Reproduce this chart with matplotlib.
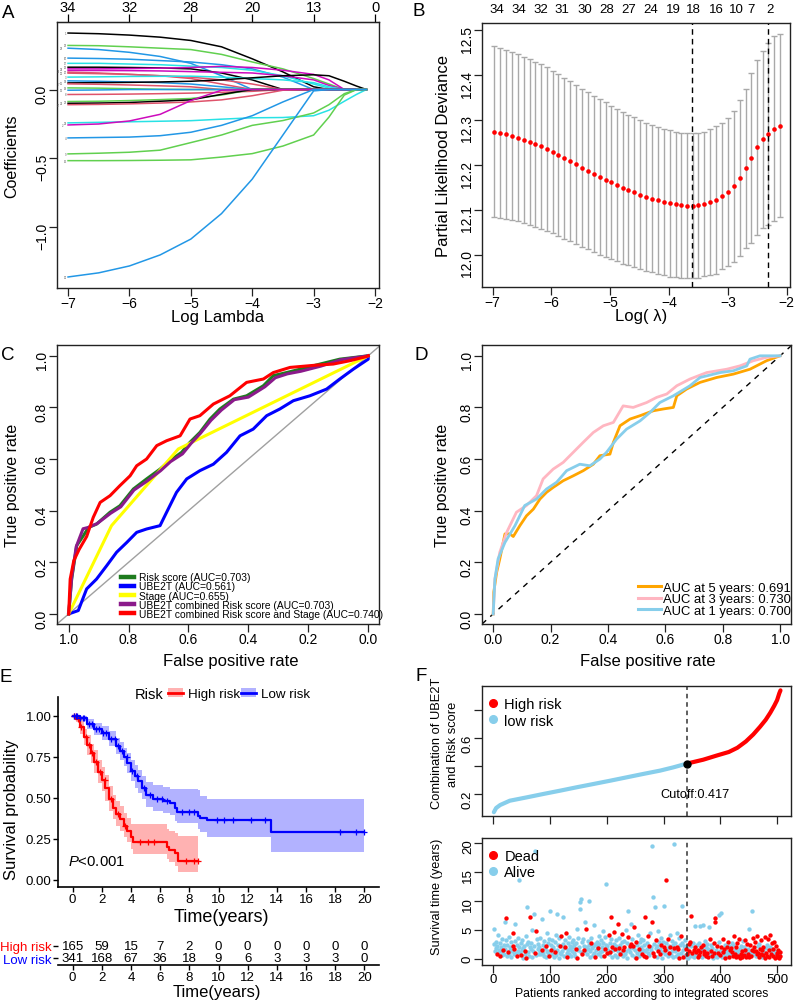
import numpy as np
import matplotlib
matplotlib.use("Agg")
import matplotlib.pyplot as plt
from matplotlib.lines import Line2D
from matplotlib.patches import Patch

plt.rcParams['font.family'] = ['Liberation Sans', 'DejaVu Sans']
plt.rcParams['mathtext.fontset'] = 'custom'
plt.rcParams['mathtext.it'] = 'Liberation Sans:italic'
plt.rcParams['mathtext.rm'] = 'Liberation Sans'

# ---------------- A: lasso coefficient paths ----------------
coef_lam = [-7, -6.5, -6, -5.5, -5, -4.5, -4, -3.5, -3, -2.75, -2.5, -2.3, -2.14]
coef_paths = [
    [0.41, 0.405, 0.395, 0.38, 0.356, 0.31, 0.223, 0.128, 0.02, 0, 0, 0, 0],
    [0.32, 0.318, 0.31, 0.30, 0.29, 0.255, 0.20, 0.15, 0.08, 0.04, 0, 0, 0],
    [0.30, 0.29, 0.27, 0.24, 0.19, 0.10, 0, 0, 0, 0, 0, 0, 0],
    [0.228, 0.225, 0.22, 0.21, 0.20, 0.18, 0.15, 0.09, 0, 0, 0, 0, 0],
    [0.19, 0.19, 0.185, 0.18, 0.17, 0.16, 0.14, 0.10, 0.04, 0.01, 0, 0, 0],
    [0.162, 0.162, 0.16, 0.157, 0.15, 0.12, 0.07, 0, 0, 0, 0, 0, 0],
    [0.15, 0.15, 0.152, 0.155, 0.16, 0.168, 0.16, 0.14, 0.11, 0.07, 0, 0, 0],
    [0.138, 0.138, 0.137, 0.135, 0.13, 0.125, 0.12, 0.10, 0.07, 0.03, 0, 0, 0],
    [0.126, 0.12, 0.11, 0.10, 0.09, 0.07, 0.04, 0, 0, 0, 0, 0, 0],
    [0.119, 0.115, 0.11, 0.10, 0.08, 0.04, 0, 0, 0, 0, 0, 0, 0],
    [0.09, 0.092, 0.095, 0.096, 0.097, 0.09, 0.08, 0.07, 0.05, 0.02, 0, 0, 0],
    [0.063, 0.06, 0.055, 0.05, 0.04, 0.02, 0, 0, 0, 0, 0, 0, 0],
    [0.048, 0.05, 0.052, 0.055, 0.06, 0.07, 0.085, 0.10, 0.107, 0.10, 0.06, 0.025, 0],
    [0.041, 0.038, 0.033, 0.027, 0.02, 0, 0, 0, 0, 0, 0, 0, 0],
    [0.012, 0.01, 0.006, 0.002, 0, 0, 0, 0, 0, 0, 0, 0, 0],
    [-0.005, -0.003, 0, 0, 0, 0, 0, 0, 0, 0, 0, 0, 0],
    [-0.036, -0.035, -0.033, -0.03, -0.026, -0.02, -0.013, 0, 0, 0, 0, 0, 0],
    [-0.087, -0.085, -0.08, -0.073, -0.065, -0.04, 0, 0, 0, 0, 0, 0, 0],
    [-0.10, -0.098, -0.094, -0.085, -0.075, -0.035, 0, 0, 0, 0, 0, 0, 0],
    [-0.11, -0.108, -0.104, -0.098, -0.09, -0.075, -0.045, -0.005, 0, 0, 0, 0, 0],
    [-0.242, -0.238, -0.234, -0.23, -0.226, -0.215, -0.205, -0.203, -0.19, -0.15, -0.085, -0.035, 0],
    [-0.257, -0.25, -0.228, -0.18, -0.08, -0.005, 0, 0, 0, 0, 0, 0, 0],
    [-0.351, -0.348, -0.345, -0.335, -0.31, -0.26, -0.19, -0.09, 0, 0, 0, 0, 0],
    [-0.467, -0.462, -0.455, -0.44, -0.385, -0.33, -0.26, -0.225, -0.17, -0.11, -0.03, 0, 0],
    [-0.516, -0.516, -0.515, -0.513, -0.51, -0.49, -0.465, -0.41, -0.33, -0.20, -0.04, 0, 0],
    [-1.36, -1.33, -1.28, -1.20, -1.085, -0.90, -0.65, -0.33, -0.01, 0, 0, 0, 0],
]
coef_colors = ['#000000', '#61D04F', '#2297E6', '#2297E6', '#28E2E5', '#000000',
               '#CD0BBC', '#CD0BBC', '#DF536B', '#DF536B', '#28E2E5', '#2297E6',
               '#000000', '#DF536B', '#61D04F', '#2297E6', '#DF536B', '#61D04F',
               '#000000', '#DF536B', '#28E2E5', '#CD0BBC', '#2297E6', '#61D04F',
               '#61D04F', '#2297E6']
coef_labels = ['1', '28', '23', '26', '17', '13', '33', '31', '20', '25', '3', '14', '11',
               '7', '19', '12', '8', '22', '21', '27', '32', '2', '4', '9', '15', '30']
lam_ticks = [-7, -6, -5, -4, -3, -2]
df_top = ['34', '32', '28', '20', '13', '0']

# ---------------- B: cross-validation curve ----------------
cv_loglam = [-6.97, -6.87, -6.77, -6.67, -6.57, -6.47, -6.37, -6.28, -6.18, -6.08,
             -5.98, -5.88, -5.78, -5.68, -5.58, -5.48, -5.38, -5.28, -5.18, -5.08,
             -4.99, -4.89, -4.79, -4.69, -4.59, -4.49, -4.39, -4.29, -4.19, -4.09,
             -3.99, -3.89, -3.80, -3.70, -3.60, -3.50, -3.40, -3.30, -3.20, -3.10,
             -3.00, -2.90, -2.80, -2.70, -2.60, -2.51, -2.41, -2.31, -2.21, -2.11]
cv_mean = [12.274, 12.271, 12.268, 12.264, 12.260, 12.256, 12.251, 12.246, 12.241, 12.235,
           12.229, 12.222, 12.215, 12.208, 12.201, 12.194, 12.187, 12.180, 12.173, 12.167,
           12.161, 12.155, 12.149, 12.144, 12.139, 12.134, 12.129, 12.125, 12.121, 12.117,
           12.114, 12.112, 12.110, 12.109, 12.109, 12.110, 12.113, 12.117, 12.122, 12.130,
           12.140, 12.152, 12.170, 12.192, 12.216, 12.239, 12.257, 12.268, 12.281, 12.287]
cv_se = [0.190, 0.189, 0.188, 0.187, 0.186, 0.185, 0.184, 0.184, 0.183, 0.182,
         0.181, 0.180, 0.179, 0.178, 0.177, 0.176, 0.175, 0.174, 0.173, 0.172,
         0.171, 0.170, 0.169, 0.168, 0.167, 0.166, 0.165, 0.164, 0.164, 0.163,
         0.163, 0.162, 0.162, 0.162, 0.162, 0.161, 0.161, 0.163, 0.165, 0.163,
         0.165, 0.169, 0.174, 0.178, 0.189, 0.195, 0.197, 0.203, 0.205, 0.204]
lambda_min, lambda_1se = -3.61, -2.31
cv_top_pos = [-6.93, -6.56, -6.18, -5.82, -5.44, -5.06, -4.69, -4.32, -3.93, -3.59,
              -3.19, -2.85, -2.6, -2.29]
cv_top_nz = ['34', '34', '32', '31', '30', '28', '27', '24', '19', '18', '16', '10', '7', '2']

# ---------------- C: ROC of models (specificity axis) ----------------
roc_red_spec = [1.0, 0.995, 0.983, 0.965, 0.94, 0.918, 0.895, 0.862, 0.829, 0.795, 0.773, 0.74,
                0.706, 0.673, 0.628, 0.595, 0.562, 0.517, 0.462, 0.406, 0.35, 0.317, 0.261,
                0.172, 0.117, 0.061, 0.006, 0.0]
roc_red_sens = [0.0, 0.135, 0.206, 0.25, 0.3, 0.374, 0.432, 0.458, 0.497, 0.535, 0.574, 0.6,
                0.652, 0.671, 0.69, 0.755, 0.768, 0.813, 0.845, 0.897, 0.91, 0.935, 0.955,
                0.964, 0.968, 0.981, 0.997, 1.0]
roc_green_spec = [1.0, 0.99, 0.973, 0.951, 0.934, 0.907, 0.862, 0.829, 0.784, 0.74, 0.695, 0.662,
                  0.623, 0.595, 0.562, 0.528, 0.495, 0.45, 0.406, 0.35, 0.317, 0.273, 0.228,
                  0.161, 0.095, 0.0]
roc_green_sens = [0.0, 0.135, 0.265, 0.303, 0.335, 0.348, 0.394, 0.419, 0.484, 0.523, 0.561, 0.594,
                  0.626, 0.665, 0.703, 0.755, 0.794, 0.832, 0.845, 0.884, 0.923, 0.935, 0.948,
                  0.968, 0.987, 1.0]
roc_purple_spec = [1.0, 0.99, 0.975, 0.952, 0.935, 0.905, 0.86, 0.826, 0.782, 0.738, 0.693, 0.66,
                   0.62, 0.592, 0.56, 0.525, 0.49, 0.447, 0.40, 0.345, 0.31, 0.27, 0.225,
                   0.158, 0.09, 0.0]
roc_purple_sens = [0.0, 0.14, 0.26, 0.33, 0.335, 0.35, 0.39, 0.415, 0.48, 0.515, 0.555, 0.59,
                   0.62, 0.66, 0.7, 0.75, 0.79, 0.83, 0.84, 0.88, 0.915, 0.93, 0.94,
                   0.96, 0.985, 1.0]
roc_yellow_spec = [1.0, 0.857, 0.634, 0.0]
roc_yellow_sens = [0.0, 0.342, 0.639, 1.0]
roc_blue_spec = [1.0, 0.968, 0.94, 0.907, 0.873, 0.84, 0.806, 0.773, 0.74, 0.695, 0.673, 0.64,
                 0.606, 0.562, 0.517, 0.473, 0.428, 0.384, 0.339, 0.295, 0.25, 0.195, 0.139,
                 0.095, 0.05, 0.0, 0.0]
roc_blue_sens = [0.0, 0.013, 0.097, 0.135, 0.187, 0.239, 0.277, 0.316, 0.329, 0.342, 0.394, 0.471,
                 0.523, 0.555, 0.58, 0.626, 0.69, 0.716, 0.768, 0.794, 0.826, 0.845, 0.871,
                 0.91, 0.948, 0.987, 1.0]
roc_labels = ['Risk score (AUC=0.703)', 'UBE2T (AUC=0.561)', 'Stage (AUC=0.655)',
              'UBE2T combined Risk score (AUC=0.703)',
              'UBE2T combined Risk score and Stage (AUC=0.740)']
roc_colors = ['#1E7B1E', '#0000FF', '#FFFF00', '#8B1A8B', '#FF0000']

# ---------------- D: time-dependent ROC ----------------
t5_fpr = [0, 0.002, 0.012, 0.023, 0.041, 0.058, 0.07, 0.093, 0.116, 0.14, 0.163, 0.186, 0.209,
          0.244, 0.279, 0.314, 0.349, 0.372, 0.407, 0.419, 0.442, 0.477, 0.512, 0.558, 0.593,
          0.628, 0.64, 0.674, 0.721, 0.779, 0.837, 0.895, 0.953, 1.0]
t5_tpr = [0, 0.084, 0.161, 0.213, 0.31, 0.31, 0.30, 0.342, 0.38, 0.406, 0.445, 0.471, 0.49,
          0.516, 0.535, 0.555, 0.58, 0.613, 0.619, 0.665, 0.729, 0.755, 0.768, 0.787, 0.794,
          0.8, 0.845, 0.871, 0.897, 0.916, 0.929, 0.948, 0.981, 1.0]
t3_fpr = [0, 0.006, 0.023, 0.047, 0.081, 0.116, 0.151, 0.174, 0.209, 0.244, 0.279, 0.314,
          0.349, 0.384, 0.419, 0.453, 0.488, 0.535, 0.57, 0.605, 0.64, 0.686, 0.744, 0.814,
          0.86, 0.907, 0.953, 1.0]
t3_tpr = [0, 0.135, 0.239, 0.316, 0.394, 0.42, 0.458, 0.523, 0.561, 0.587, 0.626, 0.665,
          0.703, 0.729, 0.742, 0.806, 0.8, 0.819, 0.839, 0.852, 0.884, 0.91, 0.935, 0.948,
          0.961, 0.981, 0.994, 1.0]
t1_fpr = [0, 0.006, 0.017, 0.041, 0.076, 0.11, 0.151, 0.186, 0.221, 0.256, 0.302, 0.337,
          0.372, 0.395, 0.43, 0.465, 0.512, 0.547, 0.581, 0.628, 0.686, 0.721, 0.791, 0.837,
          0.884, 0.895, 0.93, 1.0]
t1_tpr = [0, 0.135, 0.213, 0.277, 0.342, 0.42, 0.445, 0.484, 0.51, 0.555, 0.58, 0.574,
          0.6, 0.626, 0.677, 0.716, 0.748, 0.781, 0.819, 0.845, 0.884, 0.916, 0.935, 0.942,
          0.961, 0.987, 1.0, 1.0]
td_labels = ['AUC at 5 years: 0.691', 'AUC at 3 years: 0.730', 'AUC at 1 years: 0.700']
td_colors = ['#FFA500', '#FFB6C1', '#87CEEB']

# ---------------- E: Kaplan-Meier ----------------
high_t = [0, 0.25, 0.5, 0.75, 1.0, 1.25, 1.5, 1.75, 2.0, 2.25, 2.5, 2.75, 3.0, 3.25, 3.5,
          3.75, 4.0, 4.15, 6.45, 6.6, 7.0, 7.25, 8.6]
high_s = [1.0, 0.98, 0.93, 0.87, 0.82, 0.77, 0.72, 0.66, 0.61, 0.56, 0.49, 0.44, 0.40, 0.37,
          0.33, 0.30, 0.26, 0.233, 0.20, 0.183, 0.165, 0.118, 0.118]
high_hi = [1.0, 1.0, 0.97, 0.92, 0.88, 0.83, 0.79, 0.73, 0.69, 0.64, 0.57, 0.52, 0.48, 0.45,
           0.41, 0.38, 0.34, 0.34, 0.31, 0.30, 0.285, 0.265, 0.265]
high_lo = [1.0, 0.96, 0.89, 0.82, 0.76, 0.71, 0.65, 0.59, 0.54, 0.48, 0.42, 0.37, 0.33, 0.30,
           0.26, 0.23, 0.19, 0.158, 0.125, 0.107, 0.087, 0.05, 0.05]
high_cens = [0.1, 0.2, 0.4, 0.6, 0.9, 1.1, 1.3, 1.6, 1.9, 2.2, 2.6, 3.1, 3.6, 4.6, 5.2, 5.6,
             7.8, 8.3, 8.6]
low_t = [0, 0.5, 1.0, 1.5, 2.0, 2.5, 3.0, 3.25, 3.5, 3.75, 4.0, 4.25, 4.5, 4.75, 5.0, 5.5,
         6.2, 6.7, 7.0, 7.15, 8.6, 8.75, 9.2, 13.6, 20.0]
low_s = [1.0, 0.985, 0.95, 0.92, 0.895, 0.86, 0.815, 0.785, 0.75, 0.71, 0.665, 0.63, 0.6,
         0.56, 0.52, 0.495, 0.482, 0.468, 0.435, 0.416, 0.39, 0.375, 0.362, 0.29, 0.29]
low_hi = [1.0, 1.0, 0.98, 0.955, 0.935, 0.905, 0.865, 0.84, 0.805, 0.77, 0.73, 0.70, 0.67,
          0.63, 0.595, 0.575, 0.565, 0.555, 0.555, 0.555, 0.55, 0.51, 0.495, 0.493, 0.493]
low_lo = [1.0, 0.97, 0.92, 0.885, 0.855, 0.815, 0.765, 0.73, 0.695, 0.65, 0.60, 0.56, 0.53,
          0.49, 0.445, 0.42, 0.41, 0.395, 0.36, 0.345, 0.31, 0.29, 0.26, 0.168, 0.168]
low_cens = [0.1, 0.2, 0.3, 0.5, 0.7, 0.8, 1.1, 1.3, 1.6, 1.8, 2.1, 2.3, 2.6, 2.9, 3.1, 3.4,
            3.7, 4.1, 4.4, 4.9, 5.3, 5.8, 6.1, 6.5, 7.5, 8.0, 8.3, 9.9, 10.4, 11.0, 12.2,
            13.2, 18.3, 19.4, 20.0]
table_times = [0, 2, 4, 6, 8, 10, 12, 14, 16, 18, 20]
high_at_risk = [165, 59, 15, 7, 2, 0, 0, 0, 0, 0, 0]
low_at_risk = [341, 168, 67, 36, 18, 9, 6, 3, 3, 3, 0]

# ---------------- F: risk score distribution ----------------
low_rank = [1, 5, 12, 29, 59, 88, 118, 147, 176, 206, 235, 264, 294, 317, 341]
low_score = [0.07, 0.10, 0.121, 0.152, 0.176, 0.20, 0.224, 0.248, 0.271, 0.295, 0.319,
             0.343, 0.367, 0.39, 0.417]
high_rank = [341, 370, 394, 415, 430, 445, 458, 470, 480, 488, 495, 500, 504, 506]
high_score = [0.417, 0.445, 0.475, 0.50, 0.53, 0.575, 0.625, 0.68, 0.73, 0.78, 0.83, 0.87,
              0.92, 0.94]
cutoff_rank, cutoff_value = 341, 0.417

surv_time = [
    5.2, 2.6, 1.4, 3.0, 1.9, 0.8, 2.2, 1.1, 4.2, 1.6, 0.5, 2.8, 1.3, 2.0, 0.7, 3.4, 1.5, 2.4, 0.9, 6.4,
    1.8, 3.2, 7.1, 0.6, 2.5, 1.2, 3.8, 0.9, 2.1, 1.6, 0.3, 2.9, 1.4, 4.5, 2.2, 0.8, 1.7, 3.1, 6.1, 1.0,
    2.4, 0.5, 1.3, 3.6, 13.6, 2.0, 1.1, 0.7, 2.7, 1.5, 3.3, 0.2, 1.9, 2.3, 0.9, 1.4, 4.0, 0.1, 8.9, 2.6,
    1.2, 3.0, 0.6, 2.1, 7.2, 1.7, 2.8, 0.4, 5.0, 1.4, 7.8, 2.3, 18.6, 1.0, 0.7, 4.8, 3.4, 1.8, 2.6, 0.9,
    2.0, 1.3, 3.7, 0.8, 1.6, 6.9, 2.5, 1.1, 0.5, 3.1, 1.9, 2.2, 0.3, 4.4, 1.4, 2.7, 1.0, 3.5, 0.6, 8.3,
    2.4, 1.5, 0.9, 3.2, 1.8, 2.1, 0.4, 1.2, 2.9, 0.7, 4.1, 7.8, 1.6, 2.5, 0.2, 3.6, 1.0, 2.2, 0.8, 3.9,
    1.3, 2.6, 7.2, 0.6, 1.9, 3.3, 2.0, 4.5, 1.1, 0.3, 2.8, 1.5, 3.8, 0.9, 2.3, 1.7, 0.5, 3.0, 1.4, 2.1,
    3.2, 1.0, 2.4, 0.6, 1.8, 2.7, 5.2, 0.2, 1.5, 3.6, 2.1, 9.8, 8.7, 10.3, 1.2, 2.9, 0.8, 3.4, 1.6, 2.2,
    6.3, 1.4, 5.2, 2.0, 0.9, 3.1, 1.7, 2.5, 10.0, 0.4, 1.3, 2.8, 3.7, 1.9, 0.7, 2.3, 5.8, 1.1, 0.3, 2.6,
    1.5, 3.0, 2.2, 0.8, 1.9, 2.6, 4.0, 1.2, 0.5, 3.3, 2.0, 1.4, 4.9, 2.8, 0.6, 1.7, 3.8, 2.4, 13.0, 1.0,
    2.3, 1.6, 4.1, 0.9, 2.8, 1.2, 7.2, 3.4, 0.4, 2.0, 1.5, 4.6, 2.6, 0.7, 1.8, 3.2, 2.2, 0.3, 1.3, 6.0,
    1.9, 3.6, 0.8, 2.4, 1.1, 4.3, 2.9, 0.5, 1.6, 3.1, 2.1, 0.9, 5.0, 1.4, 2.7, 0.2, 3.8, 8.3, 1.7, 2.3,
    1.2, 6.0, 2.6, 0.7, 3.4, 1.9, 2.2, 5.6, 0.4, 1.5, 3.0, 0.1, 2.4, 1.0, 4.2, 1.8, 0.6, 2.9, 1.3, 3.5,
    2.1, 0.9, 1.6, 3.2, 0.5, 2.5, 1.3, 7.2, 0.3, 2.8, 1.8, 3.9, 1.0, 2.3, 0.7, 4.4, 1.5, 2.0, 6.3, 19.4,
    1.1, 10.7, 2.6, 0.6, 8.9, 1.9, 3.3, 0.4, 2.2, 4.9, 1.4, 2.9, 0.8, 1.7, 3.6, 2.4, 0.2, 1.2, 3.0, 2.0,
    9.2, 1.5, 0.9, 2.7, 13.6, 1.8, 3.4, 0.5, 2.3, 1.1, 4.2, 2.0, 0.7, 1.4, 3.1, 2.5, 0.3, 1.9, 19.8, 2.8,
    1.3, 0.6, 4.5, 2.1, 0.9, 1.7, 3.6, 0.2, 2.4, 1.0, 4.0, 2.8, 9.2, 1.5, 0.4, 2.2, 0.7, 3.2, 1.8, 0.3,
    0.8, 1.9, 0.2, 2.6, 1.4, 0.5, 3.0, 2.2, 7.4, 1.1, 0.6, 2.7, 1.6, 0.3, 2.0, 5.7, 1.2, 0.9, 2.4, 0.4,
    1.5, 2.8, 0.7, 1.2, 5.7, 2.1, 0.3, 1.8, 2.5, 5.8, 0.9, 1.4, 3.1, 0.5, 2.0, 1.1, 2.6, 0.4, 1.7, 5.6,
    3.5, 0.8, 1.3, 2.4, 0.5, 1.9, 0.2, 2.7, 1.1, 6.4, 7.0, 0.6, 1.6, 2.2, 0.3, 1.0, 2.9, 7.5, 0.7, 1.4,
    8.0, 2.0, 0.4, 1.2, 3.4, 0.9, 1.7, 2.5, 0.2, 1.4, 2.1, 0.6, 3.0, 1.0, 0.3, 2.3, 1.6, 0.8, 1.9, 2.7,
    1.2, 0.5, 2.4, 3.9, 0.8, 1.6, 0.3, 2.0, 1.1, 2.8, 0.6, 1.4, 3.5, 0.2, 1.8, 0.9, 2.3, 1.3, 0.4, 3.1,
    0.7, 2.1, 1.5, 3.3, 0.4, 1.0, 2.6, 0.9, 1.8, 5.2, 0.3, 2.4, 1.2, 0.6, 8.3, 1.6, 3.7, 0.8, 2.0, 1.3,
    2.9, 0.5, 1.4, 3.9, 0.8, 2.2, 1.1, 0.3, 2.6, 1.7, 0.9, 3.2, 0.4, 1.5, 2.1, 0.7, 1.2, 3.8, 0.2, 1.9,
    1.0, 2.4, 0.6, 3.5, 1.6, 0.3, 2.0, 4.1, 0.8, 1.3, 2.7, 0.5, 1.8, 0.9, 3.0, 0.2, 1.4, 2.2, 0.7, 1.1,
    0.4, 1.6, 0.9, 0.2, 1.2, 0.6,
]
surv_status = ("00000100001000001000" "00100100000001101000" "01000001000000010100"
               "00001000000001010000" "00001000000100000010" "01000001000000000101"
               "00000011010000000000" "00001001000000001010" "00100000000100000010"
               "00001000000000110001" "00100110010100100001" "10100100101000001001"
               "00100011001100010000" "01001001100101000010" "10010010001010010001"
               "01001010010100000100" "00010101001000100010" "10011010110010101001"
               "10110100101101010100" "10101001111001010010" "01011010101010101010"
               "11011011011011010110" "10111011001101011011" "10111011011101110110"
               "10111101101110110111" "110111")

W, H = 797, 1004
fig = plt.figure(figsize=(W / 100, H / 100), dpi=100)


def add_ax(l, t, r, b):
    return fig.add_axes([l / W, 1 - b / H, (r - l) / W, (b - t) / H])


def ptext(x, y, s, **kw):
    kw.setdefault('ha', 'center')
    kw.setdefault('va', 'center')
    fig.text(x / W, 1 - y / H, s, **kw)


def r_axes(ax, size=10):
    for sp in ax.spines.values():
        sp.set_linewidth(1.0)
        sp.set_color('#222222')
    ax.tick_params(direction='out', length=5.5, width=0.9, labelsize=size, pad=0.3,
                   color='#222222')
    ax.tick_params(axis='y', labelrotation=90)


# ---- A
axA = add_ax(57, 23, 379, 289)
for vals, col in zip(coef_paths, coef_colors):
    axA.plot(coef_lam, vals, color=col, lw=1.1)
# small variable labels at the left end, staggered so they do not collide
placed = []
for i in sorted(range(len(coef_paths)), key=lambda k: -coef_paths[k][0]):
    y0 = coef_paths[i][0]
    col_idx = 0
    while any(c == col_idx and abs(y - y0) < 0.025 for c, y in placed):
        col_idx += 1
    placed.append((col_idx, y0))
    axA.text(coef_lam[0] - 0.025 - 0.055 * col_idx, y0, coef_labels[i], fontsize=2.0,
             color='#555555', ha='right', va='center')
axA.set_xlim(-7.18, -1.935)
axA.set_ylim(-1.44, 0.49)
axA.set_xticks(lam_ticks)
axA.set_yticks([-1.0, -0.5, 0.0])
r_axes(axA, 10)
topA = axA.secondary_xaxis('top')
topA.set_xticks(lam_ticks, labels=df_top)
topA.tick_params(direction='out', length=5.5, width=0.9, labelsize=10.5, pad=0)
ptext(12, 156, 'Coefficients', rotation=90, fontsize=11.5)
ptext(218, 318, 'Log Lambda', fontsize=12)

# ---- B
axB = add_ax(482, 24, 790, 288)
axB.errorbar(cv_loglam, cv_mean, yerr=cv_se, fmt='none', ecolor='#A9A9A9',
             elinewidth=1.0, capsize=2.4, capthick=1.0)
axB.plot(cv_loglam, cv_mean, 'o', color='red', ms=3.3, mec='none')
for v in (lambda_min, lambda_1se):
    axB.axvline(v, color='black', ls=(0, (4, 3)), lw=1.0)
axB.set_xlim(-7.18, -1.944)
axB.set_ylim(11.928, 12.516)
axB.set_xticks(lam_ticks)
axB.set_yticks([12.0, 12.1, 12.2, 12.3, 12.4, 12.5])
r_axes(axB, 10)
topB = axB.secondary_xaxis('top')
topB.set_xticks(cv_top_pos, labels=cv_top_nz)
topB.tick_params(length=0, labelsize=9.5, pad=6)
topB.spines['top'].set_visible(False)
ptext(443, 156, 'Partial Likelihood Deviance', rotation=90, fontsize=12)
ptext(641, 317, 'Log( λ)', fontsize=12)

# ---- C
axC = add_ax(57, 345.7, 379, 625)
axC.axline((1, 0), (0, 1), color='#A0A0A0', lw=1.0)
roc_sets = [(roc_green_spec, roc_green_sens), (roc_blue_spec, roc_blue_sens),
            (roc_yellow_spec, roc_yellow_sens), (roc_purple_spec, roc_purple_sens),
            (roc_red_spec, roc_red_sens)]
handles = []
for (sx, sy), col in zip(roc_sets, roc_colors):
    axC.plot(sx, sy, color=col, lw=2.2)
    handles.append(Line2D([], [], color=col, lw=3.2))
axC.set_xlim(1.039, -0.036)
axC.set_ylim(-0.039, 1.043)
axC.set_xticks([1.0, 0.8, 0.6, 0.4, 0.2, 0.0])
axC.set_yticks([0.0, 0.2, 0.4, 0.6, 0.8, 1.0])
r_axes(axC, 10)
axC.legend(handles, roc_labels, loc='lower left', bbox_to_anchor=(0.199, 0.018),
           frameon=False, fontsize=7.4, handlelength=1.3, handletextpad=0.49,
           labelspacing=-0.08, borderpad=0, borderaxespad=0)
ptext(12.5, 485, 'True positive rate', rotation=90, fontsize=11.5)
ptext(231, 662, 'False positive rate', fontsize=12)

# ---- D
axD = add_ax(482, 345.7, 790.7, 625)
axD.axline((0, 0), (1, 1), color='black', ls=(0, (4, 4)), lw=1.0)
td_sets = [(t5_fpr, t5_tpr), (t3_fpr, t3_tpr), (t1_fpr, t1_tpr)]
for (fx, fy), col in zip(td_sets, td_colors):
    axD.plot(fx, fy, color=col, lw=2.0)
axD.set_xlim(-0.039, 1.037)
axD.set_ylim(-0.039, 1.043)
axD.set_xticks([0.0, 0.2, 0.4, 0.6, 0.8, 1.0])
axD.set_yticks([0.0, 0.2, 0.4, 0.6, 0.8, 1.0])
r_axes(axD, 10)
axD.legend([Line2D([], [], color=c, lw=2.2) for c in td_colors], td_labels,
           loc='lower right', bbox_to_anchor=(1.0, 0.026), frameon=False, fontsize=9.4,
           handlelength=1.77, handletextpad=0.15, labelspacing=-0.04, borderpad=0,
           borderaxespad=0)
ptext(442, 485, 'True positive rate', rotation=90, fontsize=11.5)
ptext(648, 662, 'False positive rate', fontsize=12)

# ---- E
axE = add_ax(58, 698.3, 379, 888)
axE.fill_between(high_t, high_lo, high_hi, step='post', color='#FF0000', alpha=0.3, lw=0)
axE.fill_between(low_t, low_lo, low_hi, step='post', color='#0000FF', alpha=0.3, lw=0)
axE.step(high_t, high_s, where='post', color='#FF0000', lw=1.6)
axE.step(low_t, low_s, where='post', color='#0000FF', lw=1.6)
for tt, ss, cens, col in ((high_t, high_s, high_cens, '#FF0000'),
                          (low_t, low_s, low_cens, '#0000FF')):
    idx = np.searchsorted(tt, cens, side='right') - 1
    axE.plot(cens, np.array(ss)[idx], '+', color=col, ms=4, mew=0.9)
axE.set_xlim(-1, 21)
axE.set_ylim(-0.043, 1.112)
axE.set_xticks(table_times)
axE.set_yticks([0, 0.25, 0.5, 0.75, 1.0], labels=['0.00', '0.25', '0.50', '0.75', '1.00'])
for s in ('top', 'right'):
    axE.spines[s].set_visible(False)
for s in ('left', 'bottom'):
    axE.spines[s].set_linewidth(1.2)
axE.tick_params(length=3.5, width=1.0, labelsize=9.5, pad=1)
axE.text(-0.3, 0.118, r'$\it{P}$<0.001', fontsize=10.7, ha='left', va='center')
axE.legend([(Patch(color='#FF0000', alpha=0.3, lw=0), Line2D([], [], color='#FF0000', lw=2)),
            (Patch(color='#0000FF', alpha=0.3, lw=0), Line2D([], [], color='#0000FF', lw=2))],
           ['High risk', 'Low risk'], ncol=2, loc='center left', bbox_to_anchor=(0.343, 1.017),
           frameon=False, fontsize=9.6, handlelength=1.15, handletextpad=0.35,
           columnspacing=0.05, borderpad=0, borderaxespad=0)
ptext(163, 695, 'Risk', ha='right', fontsize=10.5)
ptext(12, 810, 'Survival probability', rotation=90, fontsize=12)
ptext(221, 918, 'Time(years)', fontsize=13)

axT = add_ax(58, 938, 379, 966)
for t, n1, n0 in zip(table_times, high_at_risk, low_at_risk):
    axT.text(t, 1, str(n1), ha='center', va='center', fontsize=9.5)
    axT.text(t, 0, str(n0), ha='center', va='center', fontsize=9.5)
axT.set_xlim(-1, 21)
axT.set_ylim(-0.53, 1.69)
axT.set_xticks(table_times)
axT.set_yticks([1, 0], labels=['High risk', 'Low risk'])
for lab, col in zip(axT.get_yticklabels(), ['#FF0000', '#0000FF']):
    lab.set_color(col)
for s in ('top', 'right', 'left'):
    axT.spines[s].set_visible(False)
axT.spines['bottom'].set_linewidth(1.2)
axT.tick_params(length=3.5, width=1.0, labelsize=9.5, pad=1)
ptext(217, 993, 'Time(years)', fontsize=12)

# ---- F top
axF1 = add_ax(482, 687.3, 790.7, 816.7)
axF1.plot(low_rank, low_score, color='#87CEEB', lw=3.0, solid_capstyle='round')
axF1.plot(high_rank, high_score, color='#FF0000', lw=3.0, solid_capstyle='round')
axF1.axvline(cutoff_rank, color='#333333', ls=(0, (3, 2.5)), lw=1.1)
axF1.plot([cutoff_rank], [cutoff_value], 'o', color='black', ms=5)
axF1.text(cutoff_rank - 47, 0.2, f'Cutoff:{cutoff_value}', fontsize=9.2, ha='left', va='center')
axF1.set_xlim(-19.9, 524)
axF1.set_ylim(0.045, 0.969)
axF1.set_xticks([0, 100, 200, 300, 400, 500], labels=[])
axF1.set_yticks([0.2, 0.4, 0.6, 0.8], labels=['0.2', '', '0.6', ''])
r_axes(axF1, 9.5)
axF1.legend([Line2D([], [], ls='', marker='o', color='#FF0000', ms=5.5),
             Line2D([], [], ls='', marker='o', color='#87CEEB', ms=5.5)],
            ['High risk', 'low risk'], loc='upper left', bbox_to_anchor=(0.018, 0.918),
            frameon=False, fontsize=10.5, handlelength=0.8, handletextpad=0.35,
            labelspacing=0.18, borderpad=0, borderaxespad=0)
ptext(436.5, 743, 'Combination of UBE2T', rotation=90, fontsize=9.3)
ptext(453, 744, 'and Risk score', rotation=90, fontsize=9.3)

# ---- F bottom
status = np.array([int(c) for c in surv_status])
ranks = np.arange(1, len(surv_time) + 1)
times = np.array(surv_time)
axF2 = add_ax(482, 839.3, 790.7, 965.7)
axF2.scatter(ranks[status == 0], times[status == 0], s=10, color='#87CEEB', lw=0)
axF2.scatter(ranks[status == 1], times[status == 1], s=10, color='#FF0000', lw=0)
axF2.axvline(cutoff_rank, color='#333333', ls=(0, (3, 2.5)), lw=1.1)
axF2.set_xlim(-19.9, 524)
axF2.set_ylim(-0.98, 20.8)
axF2.set_xticks([0, 100, 200, 300, 400, 500])
axF2.set_yticks([0, 5, 10, 15, 20])
r_axes(axF2, 9.5)
axF2.legend([Line2D([], [], ls='', marker='o', color='#FF0000', ms=5.5),
             Line2D([], [], ls='', marker='o', color='#87CEEB', ms=5.5)],
            ['Dead', 'Alive'], loc='upper left', bbox_to_anchor=(0.018, 0.914),
            frameon=False, fontsize=10.5, handlelength=0.8, handletextpad=0.35,
            labelspacing=0.15, borderpad=0, borderaxespad=0)
ptext(437, 897, 'Survival time (years)', rotation=90, fontsize=9.2)
ptext(642, 994, 'Patients ranked according to integrated scores', fontsize=8.8)

# ---- panel letters
for lx, ly, letter in ((8, 13, 'A'), (419, 12, 'B'), (8, 355, 'C'), (421, 355, 'D'),
                       (6, 678, 'E'), (421, 677, 'F')):
    ptext(lx, ly, letter, fontsize=13.5)

fig.savefig('out.png', dpi=100)
